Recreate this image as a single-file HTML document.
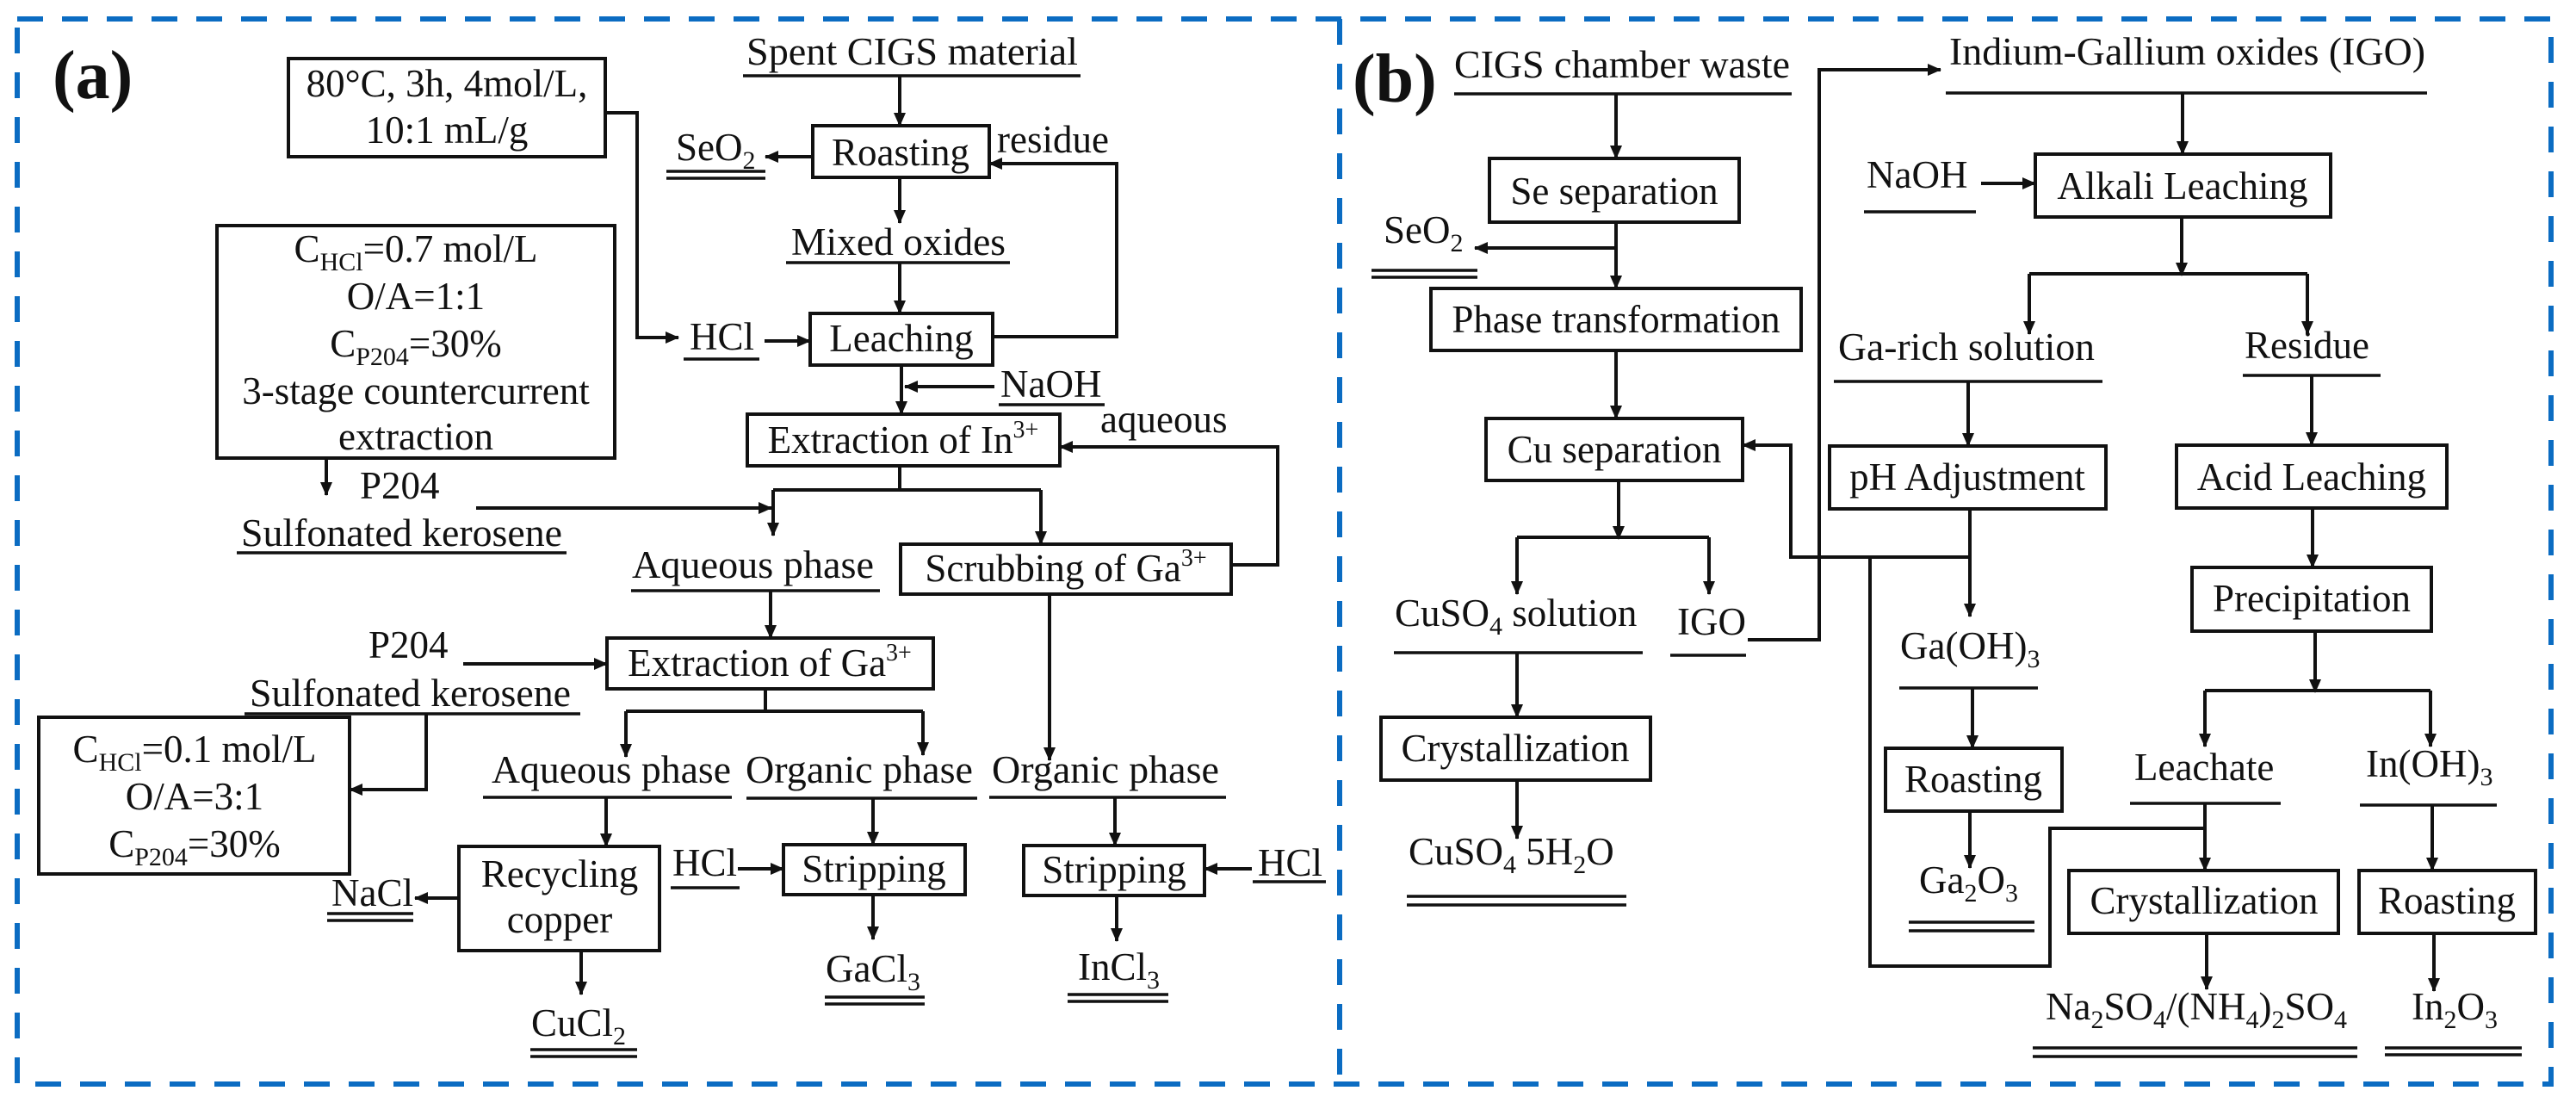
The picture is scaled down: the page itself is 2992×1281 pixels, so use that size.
<!DOCTYPE html>
<html><head><meta charset="utf-8"><style>
html,body{margin:0;padding:0;background:#fff;}
svg{display:block;}
svg text{font-family:"Liberation Serif","Times New Roman",Times,serif !important;font-size:45px;fill:#111;}
svg text.b{font-weight:bold;font-size:80px;}
.m{text-anchor:middle;}
</style></head><body>
<svg width="2992" height="1281" viewBox="0 0 2992 1281" xmlns="http://www.w3.org/2000/svg" font-family="Liberation Serif, Times New Roman, serif">
<defs>
<marker id="a" markerUnits="userSpaceOnUse" markerWidth="16" markerHeight="14" refX="15" refY="7" orient="auto"><path d="M0,0 L16,7 L0,14 Z" fill="#111"/></marker>
</defs>
<rect width="2992" height="1281" fill="#fff"/>
<g fill="none" stroke="#0b6cc2" stroke-width="6" stroke-dasharray="30 22">
<rect x="20" y="22" width="2943" height="1237"/>
<line x1="1556" y1="22" x2="1556" y2="1259"/>
</g>
<g fill="none" stroke="#111" stroke-width="4">
<rect x="335" y="68" width="368" height="114"/>
<rect x="252" y="262" width="462" height="270"/>
<rect x="944" y="146" width="205" height="60"/>
<rect x="941" y="364" width="212" height="60"/>
<rect x="868" y="481" width="363" height="60"/>
<rect x="1046" y="632" width="384" height="58"/>
<rect x="705" y="741" width="379" height="59"/>
<rect x="45" y="833" width="361" height="182"/>
<rect x="533" y="983" width="233" height="121"/>
<rect x="910" y="981" width="211" height="58"/>
<rect x="1189" y="982" width="210" height="58"/>
<path stroke-width="3.5" d="M863 88H1255M774 199H889M774 207H889M913 305H1173M794 417H882M1160 470H1283M275 642H658M733 686H1022M284 829H674M561 926H850M867 927H1135M1149 926H1424M380 1061H480M380 1069H480M616 1219H740M616 1227H740M779 1031H859M958 1158H1074M958 1166H1074M1455 1024H1540M1240 1155H1357M1240 1163H1357"/>
<path d="M1045 88V146" marker-end="url(#a)"/>
<path d="M944 182H889" marker-end="url(#a)"/>
<path d="M1045 206V259" marker-end="url(#a)"/>
<path d="M1045 305V364" marker-end="url(#a)"/>
<path d="M1153 391H1297V190H1149" marker-end="url(#a)"/>
<path d="M703 131H740V392H788" marker-end="url(#a)"/>
<path d="M888 396H941" marker-end="url(#a)"/>
<path d="M1047 424V481" marker-end="url(#a)"/>
<path d="M1155 449H1051" marker-end="url(#a)"/>
<path d="M1045 541V569M898 569H1209"/>
<path d="M898 569V622" marker-end="url(#a)"/>
<path d="M1209 569V632" marker-end="url(#a)"/>
<path d="M553 590H896" marker-end="url(#a)"/>
<path d="M1430 656H1484V519H1231" marker-end="url(#a)"/>
<path d="M379 532V575" marker-end="url(#a)"/>
<path d="M895 686V741" marker-end="url(#a)"/>
<path d="M538 771H705" marker-end="url(#a)"/>
<path d="M495 829V917H406" marker-end="url(#a)"/>
<path d="M889 800V826M727 826H1072"/>
<path d="M727 826V879" marker-end="url(#a)"/>
<path d="M1072 826V877" marker-end="url(#a)"/>
<path d="M1219 690V883" marker-end="url(#a)"/>
<path d="M704 926V983" marker-end="url(#a)"/>
<path d="M533 1043H482" marker-end="url(#a)"/>
<path d="M675 1104V1155" marker-end="url(#a)"/>
<path d="M1014 927V981" marker-end="url(#a)"/>
<path d="M857 1009H910" marker-end="url(#a)"/>
<path d="M1014 1039V1091" marker-end="url(#a)"/>
<path d="M1295 926V982" marker-end="url(#a)"/>
<path d="M1454 1009H1399" marker-end="url(#a)"/>
<path d="M1297 1040V1093" marker-end="url(#a)"/>

<rect x="1730" y="184" width="290" height="74"/>
<rect x="1662" y="335" width="430" height="72"/>
<rect x="1726" y="486" width="298" height="72"/>
<rect x="1604" y="833" width="313" height="73"/>
<rect x="2364" y="179" width="343" height="73"/>
<rect x="2125" y="518" width="321" height="73"/>
<rect x="2528" y="517" width="314" height="73"/>
<rect x="2190" y="869" width="205" height="73"/>
<rect x="2546" y="659" width="278" height="74"/>
<rect x="2403" y="1011" width="313" height="73"/>
<rect x="2740" y="1011" width="205" height="73"/>
<path stroke-width="3.5" d="M1689 109H2081M1593 314H1716M1593 322H1716M1619 758H1908M1940 761H2028M1634 1041H1889M1634 1051H1889M2260 108H2819M2165 246H2295M2130 443H2442M2605 436H2765M2206 799H2367M2217 1071H2363M2217 1081H2363M2474 933H2649M2741 935H2900M2361 1217H2738M2361 1227H2738M2770 1217H2929M2770 1225H2929"/>
<path d="M1877 109V184" marker-end="url(#a)"/>
<path d="M1877 258V335" marker-end="url(#a)"/>
<path d="M1877 288H1713" marker-end="url(#a)"/>
<path d="M1877 407V486" marker-end="url(#a)"/>
<path d="M1880 558V626" marker-end="url(#a)"/>
<path d="M1762 624H1985"/>
<path d="M1762 624V690" marker-end="url(#a)"/>
<path d="M1985 624V690" marker-end="url(#a)"/>
<path d="M1762 758V833" marker-end="url(#a)"/>
<path d="M1762 906V974" marker-end="url(#a)"/>
<path d="M2030 743H2113V81H2254" marker-end="url(#a)"/>
<path d="M2535 108V179" marker-end="url(#a)"/>
<path d="M2301 213H2364" marker-end="url(#a)"/>
<path d="M2534 252V320" marker-end="url(#a)"/>
<path d="M2357 318H2680"/>
<path d="M2357 318V388" marker-end="url(#a)"/>
<path d="M2680 318V388" marker-end="url(#a)"/>
<path d="M2286 443V518" marker-end="url(#a)"/>
<path d="M2685 436V517" marker-end="url(#a)"/>
<path d="M2288 591V716" marker-end="url(#a)"/>
<path d="M2686 590V659" marker-end="url(#a)"/>
<path d="M2689 733V804" marker-end="url(#a)"/>
<path d="M2561 802H2823"/>
<path d="M2561 802V867" marker-end="url(#a)"/>
<path d="M2823 802V867" marker-end="url(#a)"/>
<path d="M2291 799V869" marker-end="url(#a)"/>
<path d="M2288 942V1008" marker-end="url(#a)"/>
<path d="M2561 933V1011" marker-end="url(#a)"/>
<path d="M2561 962H2381V1122H2172V647H2080V517H2024" marker-end="url(#a)"/>
<path d="M2172 647H2288"/>
<path d="M2825 935V1011" marker-end="url(#a)"/>
<path d="M2563 1084V1149" marker-end="url(#a)"/>
<path d="M2827 1084V1151" marker-end="url(#a)"/>
</g>

<g font-family="Liberation Serif, Times New Roman, serif">
<text class="b" x="61" y="114" font-family="Liberation Serif, serif">(a)</text>
<text x="867" y="75" textLength="385" lengthAdjust="spacingAndGlyphs" font-family="Liberation Serif, serif">Spent CIGS material</text>
<text class="m" x="519" y="112" font-family="Liberation Serif, serif">80°C, 3h, 4mol/L,</text>
<text class="m" x="519" y="166" font-family="Liberation Serif, serif">10:1 mL/g</text>
<text class="m" x="483" y="304" font-family="Liberation Serif, serif">C<tspan font-size="30" dy="10">HCl</tspan><tspan dy="-10">=0.7 mol/L</tspan></text>
<text class="m" x="483" y="359" font-family="Liberation Serif, serif">O/A=1:1</text>
<text class="m" x="483" y="414" font-family="Liberation Serif, serif">C<tspan font-size="30" dy="10">P204</tspan><tspan dy="-10">=30%</tspan></text>
<text class="m" x="483" y="469" font-family="Liberation Serif, serif">3-stage countercurrent</text>
<text class="m" x="483" y="522" font-family="Liberation Serif, serif">extraction</text>
<text x="785" y="186" font-family="Liberation Serif, serif">SeO<tspan font-size="30" dy="10">2</tspan></text>
<text class="m" x="1046" y="192" font-family="Liberation Serif, serif">Roasting</text>
<text x="1158" y="177" font-family="Liberation Serif, serif">residue</text>
<text x="919" y="296" textLength="249" lengthAdjust="spacingAndGlyphs" font-family="Liberation Serif, serif">Mixed oxides</text>
<text class="m" x="1047" y="408" font-family="Liberation Serif, serif">Leaching</text>
<text x="801" y="406" font-family="Liberation Serif, serif">HCl</text>
<text x="1162" y="461" font-family="Liberation Serif, serif">NaOH</text>
<text class="m" x="1049" y="526" font-family="Liberation Serif, serif">Extraction of In<tspan font-size="28" dy="-18">3+</tspan></text>
<text x="1278" y="502" font-family="Liberation Serif, serif">aqueous</text>
<text x="418" y="579" font-family="Liberation Serif, serif">P204</text>
<text x="280" y="634" textLength="373" lengthAdjust="spacingAndGlyphs" font-family="Liberation Serif, serif">Sulfonated kerosene</text>
<text x="734" y="671" textLength="281" lengthAdjust="spacingAndGlyphs" font-family="Liberation Serif, serif">Aqueous phase</text>
<text class="m" x="1238" y="675" font-family="Liberation Serif, serif">Scrubbing of Ga<tspan font-size="28" dy="-18">3+</tspan></text>
<text class="m" x="894" y="785" font-family="Liberation Serif, serif">Extraction of Ga<tspan font-size="28" dy="-18">3+</tspan></text>
<text x="428" y="764" font-family="Liberation Serif, serif">P204</text>
<text x="290" y="820" textLength="373" lengthAdjust="spacingAndGlyphs" font-family="Liberation Serif, serif">Sulfonated kerosene</text>
<text class="m" x="226" y="885" font-family="Liberation Serif, serif">C<tspan font-size="30" dy="10">HCl</tspan><tspan dy="-10">=0.1 mol/L</tspan></text>
<text class="m" x="226" y="940" font-family="Liberation Serif, serif">O/A=3:1</text>
<text class="m" x="226" y="995" font-family="Liberation Serif, serif">C<tspan font-size="30" dy="10">P204</tspan><tspan dy="-10">=30%</tspan></text>
<text x="571" y="909" textLength="278" lengthAdjust="spacingAndGlyphs" font-family="Liberation Serif, serif">Aqueous phase</text>
<text x="866" y="909" textLength="264" lengthAdjust="spacingAndGlyphs" font-family="Liberation Serif, serif">Organic phase</text>
<text x="1152" y="909" textLength="264" lengthAdjust="spacingAndGlyphs" font-family="Liberation Serif, serif">Organic phase</text>
<text class="m" x="650" y="1030" font-family="Liberation Serif, serif">Recycling</text>
<text class="m" x="650" y="1083" font-family="Liberation Serif, serif">copper</text>
<text x="385" y="1052" font-family="Liberation Serif, serif">NaCl</text>
<text x="617" y="1203" font-family="Liberation Serif, serif">CuCl<tspan font-size="30" dy="10">2</tspan></text>
<text class="m" x="1015" y="1024" font-family="Liberation Serif, serif">Stripping</text>
<text x="781" y="1017" font-family="Liberation Serif, serif">HCl</text>
<text x="959" y="1140" font-family="Liberation Serif, serif">GaCl<tspan font-size="30" dy="10">3</tspan></text>
<text class="m" x="1294" y="1025" font-family="Liberation Serif, serif">Stripping</text>
<text x="1461" y="1017" font-family="Liberation Serif, serif">HCl</text>
<text x="1252" y="1138" font-family="Liberation Serif, serif">InCl<tspan font-size="30" dy="10">3</tspan></text>

<text class="b" x="1571" y="118" font-family="Liberation Serif, serif">(b)</text>
<text x="1689" y="90" textLength="390" lengthAdjust="spacingAndGlyphs" font-family="Liberation Serif, serif">CIGS chamber waste</text>
<text class="m" x="1875" y="237" font-family="Liberation Serif, serif">Se separation</text>
<text x="1607" y="282" font-family="Liberation Serif, serif">SeO<tspan font-size="30" dy="10">2</tspan></text>
<text class="m" x="1877" y="386" font-family="Liberation Serif, serif">Phase transformation</text>
<text class="m" x="1875" y="537" font-family="Liberation Serif, serif">Cu separation</text>
<text x="1620" y="727" font-family="Liberation Serif, serif">CuSO<tspan font-size="30" dy="10">4</tspan><tspan dy="-10"> solution</tspan></text>
<text x="1948" y="737" font-family="Liberation Serif, serif">IGO</text>
<text class="m" x="1760" y="884" font-family="Liberation Serif, serif">Crystallization</text>
<text x="1636" y="1004" font-family="Liberation Serif, serif">CuSO<tspan font-size="30" dy="10">4</tspan><tspan dy="-10"> 5H</tspan><tspan font-size="30" dy="10">2</tspan><tspan dy="-10">O</tspan></text>
<text x="2264" y="75" textLength="553" lengthAdjust="spacingAndGlyphs" font-family="Liberation Serif, serif">Indium-Gallium oxides (IGO)</text>
<text x="2168" y="218" font-family="Liberation Serif, serif">NaOH</text>
<text class="m" x="2535" y="231" font-family="Liberation Serif, serif">Alkali Leaching</text>
<text x="2135" y="418" textLength="298" lengthAdjust="spacingAndGlyphs" font-family="Liberation Serif, serif">Ga-rich solution</text>
<text x="2607" y="416" font-family="Liberation Serif, serif">Residue</text>
<text class="m" x="2285" y="569" font-family="Liberation Serif, serif">pH Adjustment</text>
<text class="m" x="2685" y="569" font-family="Liberation Serif, serif">Acid Leaching</text>
<text x="2207" y="765" font-family="Liberation Serif, serif">Ga(OH)<tspan font-size="30" dy="10">3</tspan></text>
<text class="m" x="2292" y="920" font-family="Liberation Serif, serif">Roasting</text>
<text x="2229" y="1037" font-family="Liberation Serif, serif">Ga<tspan font-size="30" dy="10">2</tspan><tspan dy="-10">O</tspan><tspan font-size="30" dy="10">3</tspan></text>
<text class="m" x="2685" y="710" font-family="Liberation Serif, serif">Precipitation</text>
<text x="2479" y="906" font-family="Liberation Serif, serif">Leachate</text>
<text x="2748" y="902" font-family="Liberation Serif, serif">In(OH)<tspan font-size="30" dy="10">3</tspan></text>
<text class="m" x="2560" y="1061" font-family="Liberation Serif, serif">Crystallization</text>
<text class="m" x="2842" y="1061" font-family="Liberation Serif, serif">Roasting</text>
<text x="2376" y="1184" font-family="Liberation Serif, serif">Na<tspan font-size="30" dy="10">2</tspan><tspan dy="-10">SO</tspan><tspan font-size="30" dy="10">4</tspan><tspan dy="-10">/(NH</tspan><tspan font-size="30" dy="10">4</tspan><tspan dy="-10">)</tspan><tspan font-size="30" dy="10">2</tspan><tspan dy="-10">SO</tspan><tspan font-size="30" dy="10">4</tspan></text>
<text x="2801" y="1184" font-family="Liberation Serif, serif">In<tspan font-size="30" dy="10">2</tspan><tspan dy="-10">O</tspan><tspan font-size="30" dy="10">3</tspan></text>
</g>
</svg>
</body></html>
